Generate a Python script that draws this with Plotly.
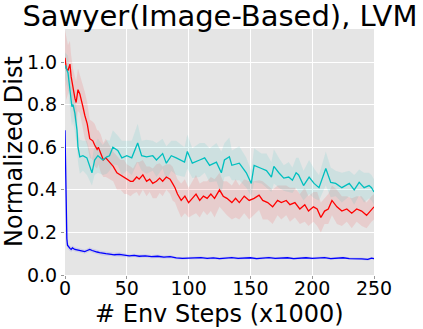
import plotly.graph_objects as go

title_text = "Sawyer(Image-Based), LVM"
x_label = "# Env Steps (x1000)"
y_label = "Normalized Dist"
x_ticks = [0, 50, 100, 150, 200, 250]
y_ticks = [0.0, 0.2, 0.4, 0.6, 0.8, 1.0]

red_x = [0, 1, 2.4, 4, 5, 6.5, 8, 9, 10.5, 12, 13, 14.5, 16, 18, 20, 22.5, 24, 26, 27, 29,
         31, 33, 36, 39, 42, 45, 48, 50, 53, 55, 58, 60, 63, 66, 68.5, 71, 74, 76.6, 79, 82,
         85, 87, 89, 91, 94, 97, 100, 103, 106, 109, 112, 115, 118, 121, 125, 128, 131, 135, 138, 141,
         145, 149, 153, 157, 160, 164, 168, 172, 175, 179, 182, 186, 190, 194, 197, 201, 204, 207, 210, 213,
         216, 220, 224, 228, 232, 236, 240, 244, 248, 250]
red_y = [1.02, 0.97, 0.96, 0.99, 0.93, 0.87, 0.83, 0.81, 0.87, 0.85, 0.83, 0.79, 0.75, 0.71, 0.64, 0.63, 0.61, 0.59, 0.60, 0.57,
         0.54, 0.55, 0.53, 0.51, 0.48, 0.47, 0.46, 0.45, 0.44, 0.44, 0.46, 0.45, 0.47, 0.44, 0.45, 0.43, 0.44, 0.455, 0.44, 0.46,
         0.45, 0.43, 0.41, 0.38, 0.35, 0.37, 0.34, 0.36, 0.38, 0.35, 0.37, 0.36, 0.38, 0.36, 0.40, 0.37, 0.36, 0.34, 0.36, 0.34,
         0.37, 0.35, 0.36, 0.375, 0.35, 0.34, 0.32, 0.35, 0.34, 0.35, 0.33, 0.34, 0.31, 0.33, 0.30, 0.32, 0.31, 0.27, 0.30, 0.31,
         0.35, 0.32, 0.30, 0.31, 0.29, 0.31, 0.30, 0.28, 0.31, 0.32]
red_sd = [0.13, 0.15, 0.12, 0.11, 0.10, 0.10, 0.11, 0.10, 0.10, 0.09, 0.10, 0.10, 0.11, 0.10, 0.09, 0.09, 0.10, 0.09, 0.08, 0.09,
          0.08, 0.09, 0.08, 0.07, 0.08, 0.07, 0.08, 0.07, 0.07, 0.06, 0.07, 0.08, 0.07, 0.07, 0.06, 0.07, 0.08, 0.07, 0.07, 0.06,
          0.07, 0.08, 0.07, 0.07, 0.08, 0.08, 0.07, 0.08, 0.09, 0.08, 0.07, 0.08, 0.08, 0.09, 0.08, 0.07, 0.08, 0.08, 0.09, 0.08,
          0.08, 0.09, 0.08, 0.07, 0.09, 0.08, 0.08, 0.07, 0.08, 0.07, 0.08, 0.07, 0.07, 0.08, 0.07, 0.07, 0.08, 0.07, 0.06, 0.07,
          0.07, 0.08, 0.07, 0.06, 0.07, 0.06, 0.07, 0.06, 0.06, 0.06]

cyan_x = [0, 2.4, 4, 5.6, 6.5, 8, 9.7, 10.5, 12, 14.5, 17.7, 20, 21.8, 24, 26.6, 30.6, 33.9, 36, 38.7, 42.7,
          46, 50, 54, 58.8, 62, 66, 71, 74, 79, 82, 86, 90, 96.7, 99, 103, 109, 113, 117, 122.5, 126.5,
          129, 133, 135, 141, 146.7, 150.7, 153, 159, 163, 167, 169, 173, 177, 181, 184, 187, 189, 193, 197.5, 201.5,
          205.5, 211, 215, 219, 224, 230, 234, 238, 242, 246, 248, 250]
cyan_y = [0.985, 0.95, 0.87, 0.79, 0.80, 0.76, 0.68, 0.60, 0.555, 0.56, 0.55, 0.51, 0.48, 0.54, 0.56, 0.54, 0.555, 0.56, 0.60, 0.585,
          0.55, 0.56, 0.55, 0.62, 0.56, 0.555, 0.56, 0.54, 0.57, 0.525, 0.56, 0.55, 0.53, 0.58, 0.525, 0.54, 0.55, 0.515, 0.53, 0.48,
          0.54, 0.555, 0.515, 0.525, 0.48, 0.43, 0.515, 0.50, 0.49, 0.46, 0.51, 0.48, 0.455, 0.46, 0.445, 0.48, 0.47, 0.42, 0.46, 0.43,
          0.41, 0.50, 0.435, 0.43, 0.41, 0.43, 0.40, 0.435, 0.41, 0.42, 0.41, 0.39]
cyan_sd = [0.06, 0.08, 0.09, 0.09, 0.08, 0.09, 0.08, 0.07, 0.08, 0.07, 0.08, 0.07, 0.06, 0.07, 0.08, 0.07, 0.08, 0.07, 0.08, 0.07,
           0.08, 0.07, 0.08, 0.09, 0.07, 0.08, 0.07, 0.08, 0.07, 0.08, 0.07, 0.08, 0.07, 0.08, 0.07, 0.08, 0.07, 0.08, 0.09, 0.10,
           0.08, 0.09, 0.07, 0.08, 0.07, 0.06, 0.08, 0.07, 0.08, 0.07, 0.08, 0.07, 0.06, 0.07, 0.06, 0.07, 0.08, 0.07, 0.08, 0.07,
           0.06, 0.08, 0.07, 0.06, 0.07, 0.06, 0.07, 0.06, 0.07, 0.06, 0.06, 0.06]

blue_x = [0, 0.5, 1, 1.5, 2, 3, 4, 5, 6, 8, 10, 12, 14, 16, 18, 20, 22, 24, 26, 28,
          30, 33, 36, 40, 44, 48, 52, 56, 60, 65, 70, 75, 80, 85, 90, 95, 100, 105, 110, 115,
          120, 125, 130, 135, 140, 145, 150, 155, 160, 165, 170, 175, 180, 185, 190, 195, 200, 205, 210, 215,
          220, 225, 230, 235, 240, 245, 248, 250]
blue_y = [0.68, 0.45, 0.26, 0.17, 0.14, 0.13, 0.125, 0.12, 0.127, 0.12, 0.118, 0.115, 0.113, 0.11, 0.115, 0.12, 0.115, 0.11, 0.108, 0.105,
          0.102, 0.10, 0.098, 0.095, 0.097, 0.093, 0.09, 0.092, 0.088, 0.09, 0.086, 0.088, 0.084, 0.086, 0.08, 0.078, 0.08, 0.079, 0.082, 0.078,
          0.08, 0.077, 0.079, 0.082, 0.078, 0.08, 0.081, 0.077, 0.079, 0.082, 0.078, 0.08, 0.081, 0.077, 0.079, 0.081, 0.078, 0.08, 0.082, 0.077,
          0.079, 0.081, 0.077, 0.078, 0.076, 0.073, 0.079, 0.077]
blue_sd = [0.03, 0.03, 0.03, 0.02, 0.015, 0.012, 0.012, 0.012, 0.012, 0.01, 0.01, 0.01, 0.01, 0.01, 0.01, 0.01, 0.01, 0.01, 0.01, 0.01,
           0.01, 0.01, 0.01, 0.01, 0.01, 0.01, 0.008, 0.008, 0.008, 0.008, 0.008, 0.008, 0.008, 0.008, 0.006, 0.006, 0.006, 0.006, 0.006, 0.006,
           0.006, 0.006, 0.006, 0.006, 0.006, 0.006, 0.006, 0.006, 0.006, 0.006, 0.006, 0.006, 0.006, 0.006, 0.006, 0.006, 0.006, 0.006, 0.006, 0.006,
           0.006, 0.006, 0.006, 0.006, 0.006, 0.006, 0.006, 0.006]

series = [
    (red_x, red_y, red_sd, "#ff0000", "rgba(255,0,0,0.10)"),
    (cyan_x, cyan_y, cyan_sd, "#00bfbf", "rgba(0,191,191,0.10)"),
    (blue_x, blue_y, blue_sd, "#0000ff", "rgba(0,0,255,0.10)"),
]

fig = go.Figure()
for xs, ys, sds, col, fillcol in series:
    upper = [y + s for y, s in zip(ys, sds)]
    lower = [y - s for y, s in zip(ys, sds)]
    fig.add_trace(go.Scatter(x=xs + xs[::-1], y=upper + lower[::-1], fill="toself",
                             fillcolor=fillcol, line=dict(width=0), mode="lines",
                             hoverinfo="skip", showlegend=False))
for xs, ys, sds, col, fillcol in series:
    fig.add_trace(go.Scatter(x=xs, y=ys, mode="lines", line=dict(color=col, width=1.3),
                             showlegend=False))

font_family = "DejaVu Sans"
W, H = 423, 329
ML, MR, MT, MB = 65, 49, 29, 54
fig.update_layout(
    width=W, height=H,
    margin=dict(l=ML, r=MR, t=MT, b=MB),
    paper_bgcolor="white",
    plot_bgcolor="#e5e5e5",
    font=dict(family=font_family, color="black"),
    title=dict(text=title_text, x=0.52, xanchor="center", y=1 - 16 / H, yanchor="middle",
               yref="container", font=dict(size=29, family=font_family, color="black")),
    annotations=[
        dict(text=x_label, xref="paper", yref="paper", x=0.5, y=-(314 - (H - MB)) / (H - MT - MB),
             xanchor="center", yanchor="middle", showarrow=False,
             font=dict(size=24, family=font_family, color="black")),
        dict(text=y_label, xref="paper", yref="paper", x=-(ML - 14) / (W - ML - MR), y=0.5,
             xanchor="center", yanchor="middle", textangle=-90, showarrow=False,
             font=dict(size=24, family=font_family, color="black")),
    ],
)
fig.update_xaxes(range=[0, 250], tickvals=x_ticks, ticktext=[str(v) for v in x_ticks],
                 showgrid=True, gridcolor="white", gridwidth=1, zeroline=False, automargin=False,
                 showline=False, ticks="outside", ticklen=3, tickcolor="#999999",
                 tickfont=dict(size=19), ticklabelstandoff=-7)
fig.update_yaxes(range=[0, 1.155], tickvals=y_ticks, ticktext=["%.1f" % v for v in y_ticks],
                 showgrid=True, gridcolor="white", gridwidth=1, zeroline=False, automargin=False,
                 showline=False, ticks="outside", ticklen=3, tickcolor="#999999",
                 tickfont=dict(size=19))

fig.write_html("out.html", config={"displayModeBar": False},
               post_script="document.body.style.margin='0px';")
